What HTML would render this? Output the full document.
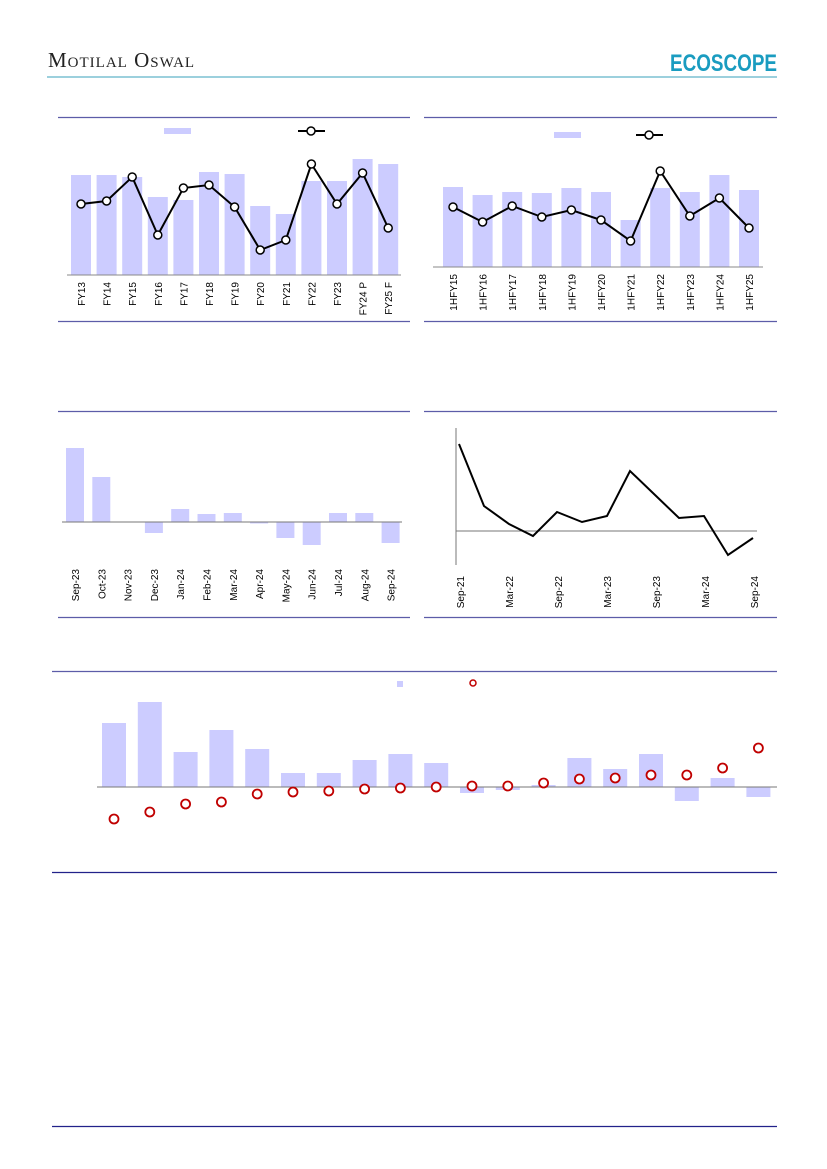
<!DOCTYPE html>
<html><head><meta charset="utf-8"><style>
html,body{margin:0;padding:0;background:#fff}
svg{display:block}
text{font-family:"Liberation Sans",sans-serif}
</style></head><body>
<svg width="827" height="1169" viewBox="0 0 827 1169" xmlns="http://www.w3.org/2000/svg">
<!-- header -->
<text x="48" y="67" font-family="Liberation Serif" font-size="21" fill="#222" style="font-family:'Liberation Serif',serif;font-variant:small-caps;letter-spacing:1px">Motilal Oswal</text>
<text x="670" y="71" font-size="24" font-weight="bold" fill="#1a9cc0" textLength="107" lengthAdjust="spacingAndGlyphs">ECOSCOPE</text>
<line x1="47" y1="77" x2="777" y2="77" stroke="#3aa0bb" stroke-width="1"/>

<g stroke="#5c5ca8" stroke-width="1.2">
<line x1="58" y1="117.5" x2="410" y2="117.5"/><line x1="424" y1="117.5" x2="777" y2="117.5"/>
<line x1="58" y1="321.5" x2="410" y2="321.5"/><line x1="424" y1="321.5" x2="777" y2="321.5"/>
<line x1="58" y1="411.5" x2="410" y2="411.5"/><line x1="424" y1="411.5" x2="777" y2="411.5"/>
<line x1="58" y1="617.5" x2="410" y2="617.5"/><line x1="424" y1="617.5" x2="777" y2="617.5"/>
<line x1="52" y1="671.5" x2="777" y2="671.5"/>
<line x1="52" y1="872.5" x2="777" y2="872.5" stroke="#22228a"/>
<line x1="52" y1="1126.5" x2="777" y2="1126.5" stroke="#22228a"/>
</g>

<!-- chart 1 -->
<g fill="#ccccff">
<rect x="164" y="128" width="27" height="6"/>
<rect x="71" y="175" width="20" height="100"/><rect x="96.6" y="175" width="20" height="100"/><rect x="122.2" y="177" width="20" height="98"/><rect x="147.8" y="197" width="20" height="78"/><rect x="173.4" y="200" width="20" height="75"/><rect x="199" y="172" width="20" height="103"/><rect x="224.6" y="174" width="20" height="101"/><rect x="250.2" y="206" width="20" height="69"/><rect x="275.8" y="214" width="20" height="61"/><rect x="301.4" y="181" width="20" height="94"/><rect x="327" y="181" width="20" height="94"/><rect x="352.6" y="159" width="20" height="116"/><rect x="378.2" y="164" width="20" height="111"/>
</g>
<line x1="67" y1="275" x2="401" y2="275" stroke="#888"/>
<line x1="298" y1="131" x2="325" y2="131" stroke="#000" stroke-width="2"/><circle cx="311" cy="131" r="4" fill="#fff" stroke="#000" stroke-width="1.5"/>
<polyline fill="none" stroke="#000" stroke-width="2" points="81,204 106.6,201 132.2,177 157.8,235 183.4,188 209,185 234.6,207 260.2,250 285.8,240 311.4,164 337,204 362.6,173 388.2,228"/>
<g fill="#fff" stroke="#000" stroke-width="1.5">
<circle cx="81" cy="204" r="4"/><circle cx="106.6" cy="201" r="4"/><circle cx="132.2" cy="177" r="4"/><circle cx="157.8" cy="235" r="4"/><circle cx="183.4" cy="188" r="4"/><circle cx="209" cy="185" r="4"/><circle cx="234.6" cy="207" r="4"/><circle cx="260.2" cy="250" r="4"/><circle cx="285.8" cy="240" r="4"/><circle cx="311.4" cy="164" r="4"/><circle cx="337" cy="204" r="4"/><circle cx="362.6" cy="173" r="4"/><circle cx="388.2" cy="228" r="4"/>
</g>
<g font-size="10" fill="#000" text-anchor="end">
<text transform="translate(85,282) rotate(-90)">FY13</text><text transform="translate(110.6,282) rotate(-90)">FY14</text><text transform="translate(136.2,282) rotate(-90)">FY15</text><text transform="translate(161.8,282) rotate(-90)">FY16</text><text transform="translate(187.4,282) rotate(-90)">FY17</text><text transform="translate(213,282) rotate(-90)">FY18</text><text transform="translate(238.6,282) rotate(-90)">FY19</text><text transform="translate(264.2,282) rotate(-90)">FY20</text><text transform="translate(289.8,282) rotate(-90)">FY21</text><text transform="translate(315.4,282) rotate(-90)">FY22</text><text transform="translate(341,282) rotate(-90)">FY23</text><text transform="translate(366.6,282) rotate(-90)">FY24 P</text><text transform="translate(392.2,282) rotate(-90)">FY25 F</text>
</g>

<!-- chart 2 -->
<g fill="#ccccff">
<rect x="554" y="132" width="27" height="6"/>
<rect x="443" y="187" width="20" height="80"/><rect x="472.6" y="195" width="20" height="72"/><rect x="502.2" y="192" width="20" height="75"/><rect x="531.8" y="193" width="20" height="74"/><rect x="561.4" y="188" width="20" height="79"/><rect x="591" y="192" width="20" height="75"/><rect x="620.6" y="220" width="20" height="47"/><rect x="650.2" y="188" width="20" height="79"/><rect x="679.8" y="192" width="20" height="75"/><rect x="709.4" y="175" width="20" height="92"/><rect x="739" y="190" width="20" height="77"/>
</g>
<line x1="433" y1="267" x2="763" y2="267" stroke="#888"/>
<line x1="636" y1="135" x2="663" y2="135" stroke="#000" stroke-width="2"/><circle cx="649" cy="135" r="4" fill="#fff" stroke="#000" stroke-width="1.5"/>
<polyline fill="none" stroke="#000" stroke-width="2" points="453,207 482.6,222 512.2,206 541.8,217 571.4,210 601,220 630.6,241 660.2,171 689.8,216 719.4,198 749,228"/>
<g fill="#fff" stroke="#000" stroke-width="1.5">
<circle cx="453" cy="207" r="4"/><circle cx="482.6" cy="222" r="4"/><circle cx="512.2" cy="206" r="4"/><circle cx="541.8" cy="217" r="4"/><circle cx="571.4" cy="210" r="4"/><circle cx="601" cy="220" r="4"/><circle cx="630.6" cy="241" r="4"/><circle cx="660.2" cy="171" r="4"/><circle cx="689.8" cy="216" r="4"/><circle cx="719.4" cy="198" r="4"/><circle cx="749" cy="228" r="4"/>
</g>
<g font-size="10" fill="#000" text-anchor="end">
<text transform="translate(457,274) rotate(-90)">1HFY15</text><text transform="translate(486.6,274) rotate(-90)">1HFY16</text><text transform="translate(516.2,274) rotate(-90)">1HFY17</text><text transform="translate(545.8,274) rotate(-90)">1HFY18</text><text transform="translate(575.4,274) rotate(-90)">1HFY19</text><text transform="translate(605,274) rotate(-90)">1HFY20</text><text transform="translate(634.6,274) rotate(-90)">1HFY21</text><text transform="translate(664.2,274) rotate(-90)">1HFY22</text><text transform="translate(693.8,274) rotate(-90)">1HFY23</text><text transform="translate(723.4,274) rotate(-90)">1HFY24</text><text transform="translate(753,274) rotate(-90)">1HFY25</text>
</g>

<!-- chart 3 -->
<g fill="#ccccff">
<rect x="66" y="448" width="18" height="74"/><rect x="92.3" y="477" width="18" height="45"/><rect x="144.9" y="522" width="18" height="11"/><rect x="171.2" y="509" width="18" height="13"/><rect x="197.5" y="514" width="18" height="8"/><rect x="223.8" y="513" width="18" height="9"/><rect x="250.1" y="522" width="18" height="1.5"/><rect x="276.4" y="522" width="18" height="16"/><rect x="302.7" y="522" width="18" height="23"/><rect x="329" y="513" width="18" height="9"/><rect x="355.3" y="513" width="18" height="9"/><rect x="381.6" y="522" width="18" height="21"/>
</g>
<line x1="62" y1="522" x2="402" y2="522" stroke="#777"/>
<g font-size="10" fill="#000" text-anchor="end">
<text transform="translate(79,569) rotate(-90)">Sep-23</text><text transform="translate(105.3,569) rotate(-90)">Oct-23</text><text transform="translate(131.6,569) rotate(-90)">Nov-23</text><text transform="translate(157.9,569) rotate(-90)">Dec-23</text><text transform="translate(184.2,569) rotate(-90)">Jan-24</text><text transform="translate(210.5,569) rotate(-90)">Feb-24</text><text transform="translate(236.8,569) rotate(-90)">Mar-24</text><text transform="translate(263.1,569) rotate(-90)">Apr-24</text><text transform="translate(289.4,569) rotate(-90)">May-24</text><text transform="translate(315.7,569) rotate(-90)">Jun-24</text><text transform="translate(342,569) rotate(-90)">Jul-24</text><text transform="translate(368.3,569) rotate(-90)">Aug-24</text><text transform="translate(394.6,569) rotate(-90)">Sep-24</text>
</g>

<!-- chart 4 -->
<line x1="456" y1="428" x2="456" y2="565" stroke="#777"/>
<line x1="456" y1="531" x2="757" y2="531" stroke="#777"/>
<polyline fill="none" stroke="#000" stroke-width="2" points="459,444 484,506 509,524 533,536 557,512 582,522 607,516 630,471 654,494 679,518 704,516 728,555 753,538"/>
<g font-size="10" fill="#000" text-anchor="end">
<text transform="translate(464,576) rotate(-90)">Sep-21</text><text transform="translate(513,576) rotate(-90)">Mar-22</text><text transform="translate(562,576) rotate(-90)">Sep-22</text><text transform="translate(611,576) rotate(-90)">Mar-23</text><text transform="translate(660,576) rotate(-90)">Sep-23</text><text transform="translate(709,576) rotate(-90)">Mar-24</text><text transform="translate(758,576) rotate(-90)">Sep-24</text>
</g>

<!-- chart 5 -->
<rect x="397" y="681" width="6" height="6" fill="#ccccff"/>
<circle cx="473" cy="683" r="3" fill="#fff" stroke="#c00000" stroke-width="1.5"/>
<g fill="#ccccff">
<rect x="102" y="723" width="24" height="64"/><rect x="137.8" y="702" width="24" height="85"/><rect x="173.6" y="752" width="24" height="35"/><rect x="209.4" y="730" width="24" height="57"/><rect x="245.2" y="749" width="24" height="38"/><rect x="281" y="773" width="24" height="14"/><rect x="316.8" y="773" width="24" height="14"/><rect x="352.6" y="760" width="24" height="27"/><rect x="388.4" y="754" width="24" height="33"/><rect x="424.2" y="763" width="24" height="24"/><rect x="460" y="787" width="24" height="6"/><rect x="495.8" y="787" width="24" height="3"/><rect x="531.6" y="785" width="24" height="2"/><rect x="567.4" y="758" width="24" height="29"/><rect x="603.2" y="769" width="24" height="18"/><rect x="639" y="754" width="24" height="33"/><rect x="674.8" y="787" width="24" height="14"/><rect x="710.6" y="778" width="24" height="9"/><rect x="746.4" y="787" width="24" height="10"/>
</g>
<line x1="97" y1="787" x2="777" y2="787" stroke="#777"/>
<g fill="#fff" stroke="#c00000" stroke-width="1.8">
<circle cx="114" cy="819" r="4.5"/><circle cx="149.8" cy="812" r="4.5"/><circle cx="185.6" cy="804" r="4.5"/><circle cx="221.4" cy="802" r="4.5"/><circle cx="257.2" cy="794" r="4.5"/><circle cx="293" cy="792" r="4.5"/><circle cx="328.8" cy="791" r="4.5"/><circle cx="364.6" cy="789" r="4.5"/><circle cx="400.4" cy="788" r="4.5"/><circle cx="436.2" cy="787" r="4.5"/><circle cx="472" cy="786" r="4.5"/><circle cx="507.8" cy="786" r="4.5"/><circle cx="543.6" cy="783" r="4.5"/><circle cx="579.4" cy="779" r="4.5"/><circle cx="615.2" cy="778" r="4.5"/><circle cx="651" cy="775" r="4.5"/><circle cx="686.8" cy="775" r="4.5"/><circle cx="722.6" cy="768" r="4.5"/><circle cx="758.4" cy="748" r="4.5"/>
</g>
</svg>
</body></html>
